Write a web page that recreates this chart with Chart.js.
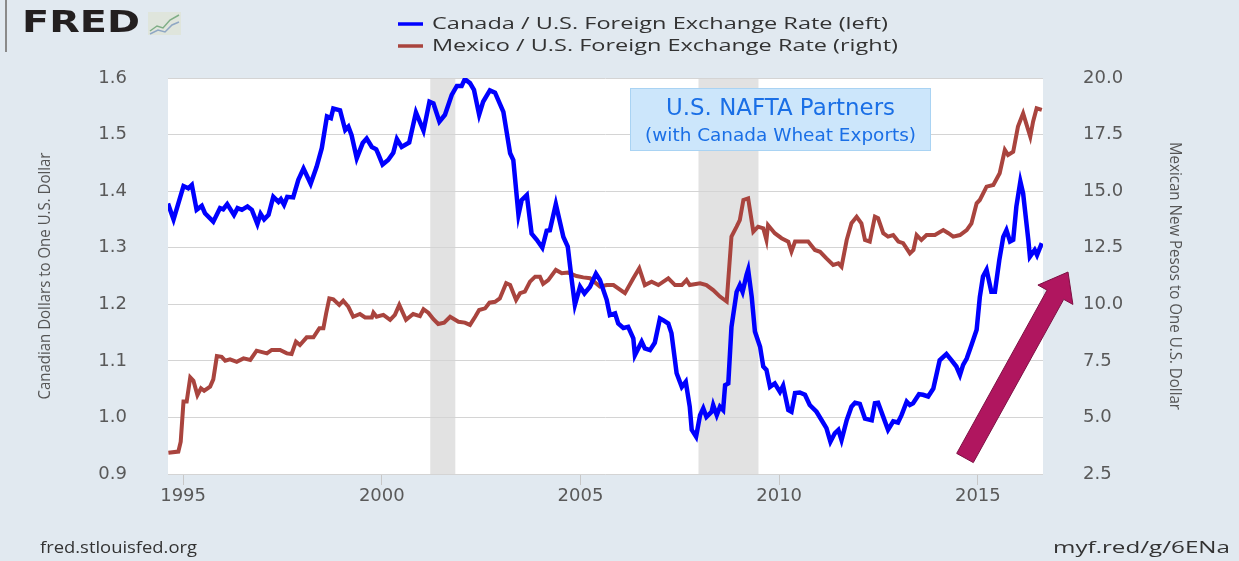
<!DOCTYPE html>
<html>
<head>
<meta charset="utf-8">
<script src="https://cdn.jsdelivr.net/npm/chart.js@4"></script>
<style>
  html, body { margin: 0; padding: 0; background: #e1e9f0; }
  canvas { display: block; }
</style>
</head>
<body>
<canvas id="fx" width="1239" height="561"></canvas>
<script>
// Canada / U.S. (left axis), decimal years
var canadaYears = [1994.62, 1994.76, 1995.01, 1995.13, 1995.22, 1995.34, 1995.47, 1995.55, 1995.76, 1995.93,
  1996.01, 1996.11, 1996.28, 1996.37, 1996.48, 1996.62, 1996.73, 1996.87, 1996.95, 1997.04,
  1997.15, 1997.27, 1997.40, 1997.46, 1997.54, 1997.62, 1997.77, 1997.90, 1998.03, 1998.21,
  1998.36, 1998.49, 1998.62, 1998.72, 1998.78, 1998.95, 1999.08, 1999.16, 1999.24, 1999.37,
  1999.52, 1999.62, 1999.75, 1999.86, 1999.91, 2000.02, 2000.16, 2000.29, 2000.38, 2000.50,
  2000.69, 2000.86, 2001.05, 2001.20, 2001.30, 2001.45, 2001.59, 2001.76, 2001.89, 2002.01,
  2002.09, 2002.22, 2002.32, 2002.45, 2002.55, 2002.72, 2002.85, 2003.06, 2003.23, 2003.31,
  2003.44, 2003.52, 2003.65, 2003.77, 2003.90, 2004.04, 2004.15, 2004.23, 2004.38, 2004.57,
  2004.68, 2004.78, 2004.86, 2004.99, 2005.10, 2005.24, 2005.39, 2005.49, 2005.66, 2005.74,
  2005.87, 2005.95, 2006.08, 2006.20, 2006.33, 2006.37, 2006.54, 2006.62, 2006.75, 2006.87,
  2007.00, 2007.08, 2007.21, 2007.29, 2007.42, 2007.55, 2007.65, 2007.75, 2007.80, 2007.91,
  2008.01, 2008.09, 2008.17, 2008.30, 2008.34, 2008.43, 2008.51, 2008.59, 2008.64, 2008.72,
  2008.80, 2008.93, 2009.01, 2009.08, 2009.18, 2009.22, 2009.31, 2009.39, 2009.52, 2009.60,
  2009.68, 2009.77, 2009.89, 2010.02, 2010.10, 2010.23, 2010.31, 2010.40, 2010.52, 2010.65,
  2010.77, 2010.94, 2011.07, 2011.19, 2011.29, 2011.40, 2011.49, 2011.57, 2011.70, 2011.82,
  2011.91, 2012.03, 2012.16, 2012.33, 2012.41, 2012.49, 2012.62, 2012.74, 2012.87, 2012.99,
  2013.08, 2013.21, 2013.29, 2013.37, 2013.52, 2013.62, 2013.75, 2013.88, 2014.04, 2014.21,
  2014.34, 2014.46, 2014.55, 2014.63, 2014.72, 2014.84, 2014.97, 2015.05, 2015.13, 2015.22,
  2015.34, 2015.43, 2015.54, 2015.64, 2015.72, 2015.81, 2015.89, 2015.97, 2016.07, 2016.14,
  2016.27, 2016.31, 2016.43, 2016.49, 2016.61];
var canadaRates = [1.378, 1.350, 1.409, 1.405, 1.411, 1.367, 1.374, 1.361, 1.346, 1.370,
  1.368, 1.377, 1.358, 1.370, 1.367, 1.373, 1.367, 1.342, 1.360, 1.350,
  1.358, 1.390, 1.381, 1.386, 1.376, 1.390, 1.389, 1.420, 1.440, 1.413,
  1.443, 1.476, 1.532, 1.529, 1.546, 1.543, 1.508, 1.514, 1.499, 1.458,
  1.485, 1.493, 1.478, 1.474, 1.466, 1.447, 1.455, 1.468, 1.492, 1.478,
  1.486, 1.539, 1.507, 1.558, 1.555, 1.523, 1.535, 1.570, 1.586, 1.586,
  1.598, 1.591, 1.579, 1.535, 1.558, 1.578, 1.574, 1.540, 1.467, 1.455,
  1.358, 1.384, 1.393, 1.325, 1.314, 1.300, 1.330, 1.331, 1.377, 1.319,
  1.302, 1.243, 1.199, 1.231, 1.219, 1.231, 1.254, 1.243, 1.208, 1.181,
  1.184, 1.166, 1.158, 1.160, 1.140, 1.110, 1.134, 1.122, 1.119, 1.132,
  1.175, 1.172, 1.166, 1.149, 1.078, 1.054, 1.063, 1.019, 0.978, 0.966,
  1.004, 1.016, 1.001, 1.010, 1.022, 1.004, 1.019, 1.013, 1.057, 1.060,
  1.160, 1.222, 1.234, 1.222, 1.252, 1.261, 1.213, 1.152, 1.125, 1.090,
  1.084, 1.054, 1.060, 1.045, 1.056, 1.013, 1.010, 1.043, 1.044, 1.040,
  1.022, 1.010, 0.995, 0.981, 0.957, 0.972, 0.978, 0.960, 0.995, 1.019,
  1.026, 1.024, 0.998, 0.995, 1.025, 1.026, 1.001, 0.978, 0.993, 0.991,
  1.004, 1.028, 1.022, 1.025, 1.041, 1.040, 1.037, 1.051, 1.101, 1.112,
  1.101, 1.090, 1.075, 1.093, 1.104, 1.128, 1.155, 1.213, 1.249, 1.261,
  1.222, 1.222, 1.278, 1.319, 1.331, 1.311, 1.314, 1.373, 1.417, 1.396,
  1.314, 1.284, 1.296, 1.287, 1.308];

// Mexico / U.S. (right axis)
var mexicoYears = [1994.63, 1994.88, 1994.94, 1995.01, 1995.09, 1995.18, 1995.26, 1995.36, 1995.45, 1995.53,
  1995.68, 1995.76, 1995.85, 1995.97, 1996.06, 1996.18, 1996.35, 1996.52, 1996.69, 1996.85,
  1997.11, 1997.23, 1997.44, 1997.61, 1997.73, 1997.84, 1997.94, 1998.11, 1998.28, 1998.43,
  1998.53, 1998.60, 1998.68, 1998.78, 1998.93, 1999.03, 1999.16, 1999.28, 1999.45, 1999.58,
  1999.75, 1999.79, 1999.87, 2000.04, 2000.21, 2000.33, 2000.44, 2000.61, 2000.79, 2000.96,
  2001.05, 2001.17, 2001.30, 2001.42, 2001.57, 2001.72, 2001.93, 2002.09, 2002.22, 2002.35,
  2002.45, 2002.60, 2002.71, 2002.85, 2002.97, 2003.13, 2003.23, 2003.38, 2003.48, 2003.60,
  2003.73, 2003.86, 2003.98, 2004.06, 2004.19, 2004.38, 2004.53, 2004.69, 2004.90, 2005.07,
  2005.24, 2005.49, 2005.66, 2005.83, 2006.12, 2006.33, 2006.48, 2006.62, 2006.79, 2006.96,
  2007.21, 2007.38, 2007.55, 2007.67, 2007.75, 2008.01, 2008.17, 2008.34, 2008.51, 2008.68,
  2008.80, 2008.93, 2009.01, 2009.10, 2009.22, 2009.35, 2009.47, 2009.60, 2009.68, 2009.72,
  2009.89, 2010.06, 2010.23, 2010.31, 2010.40, 2010.56, 2010.73, 2010.90, 2011.03, 2011.19,
  2011.36, 2011.49, 2011.57, 2011.70, 2011.82, 2011.95, 2012.07, 2012.16, 2012.28, 2012.41,
  2012.49, 2012.62, 2012.74, 2012.87, 2013.00, 2013.12, 2013.29, 2013.38, 2013.46, 2013.58,
  2013.71, 2013.92, 2014.13, 2014.26, 2014.38, 2014.55, 2014.72, 2014.84, 2014.97, 2015.05,
  2015.22, 2015.39, 2015.55, 2015.68, 2015.76, 2015.89, 2016.01, 2016.14, 2016.23, 2016.32,
  2016.39, 2016.48, 2016.61];
var mexicoRates = [3.44, 3.49, 3.93, 5.70, 5.70, 6.77, 6.62, 5.99, 6.29, 6.18,
  6.36, 6.68, 7.71, 7.68, 7.51, 7.57, 7.46, 7.61, 7.54, 7.95,
  7.83, 7.98, 7.98, 7.83, 7.80, 8.35, 8.20, 8.54, 8.54, 8.94,
  8.94, 9.60, 10.26, 10.22, 9.97, 10.16, 9.89, 9.45, 9.57, 9.42,
  9.42, 9.63, 9.45, 9.53, 9.31, 9.53, 9.97, 9.31, 9.57, 9.48,
  9.78, 9.63, 9.34, 9.13, 9.19, 9.45, 9.23, 9.19, 9.09, 9.45,
  9.75, 9.82, 10.07, 10.11, 10.26, 10.93, 10.85, 10.19, 10.49, 10.56,
  11.00, 11.22, 11.22, 10.90, 11.07, 11.52, 11.37, 11.40, 11.25, 11.19,
  11.15, 10.78, 10.85, 10.85, 10.49, 11.15, 11.59, 10.85, 11.00, 10.85,
  11.15, 10.85, 10.85, 11.07, 10.85, 10.93, 10.85, 10.63, 10.34, 10.12,
  12.99, 13.43, 13.72, 14.61, 14.68, 13.21, 13.43, 13.36, 12.84, 13.50,
  13.14, 12.92, 12.77, 12.33, 12.77, 12.77, 12.77, 12.40, 12.32, 12.03,
  11.74, 11.81, 11.66, 12.84, 13.58, 13.87, 13.58, 12.84, 12.77, 13.87,
  13.80, 13.14, 12.99, 13.06, 12.77, 12.70, 12.25, 12.40, 13.06, 12.84,
  13.06, 13.06, 13.28, 13.14, 12.99, 13.06, 13.28, 13.58, 14.46, 14.61,
  15.20, 15.27, 15.79, 16.82, 16.60, 16.74, 17.85, 18.44, 17.92, 17.41,
  18.07, 18.66, 18.59];

var recessionStarts = [2001.22, 2007.97];
var recessionEnds = [2001.85, 2009.48];

var yearTicks = [1995, 2000, 2005, 2010, 2015];
var leftTicks = [0.9, 1.0, 1.1, 1.2, 1.3, 1.4, 1.5, 1.6];
var rightTicks = [2.5, 5.0, 7.5, 10.0, 12.5, 15.0, 17.5, 20.0];

var canadaLabel = "Canada / U.S. Foreign Exchange Rate (left)";
var mexicoLabel = "Mexico / U.S. Foreign Exchange Rate (right)";

function toPoints(xs, ys) {
  return xs.map(function (x, i) { return { x: x, y: ys[i] }; });
}

// draws text squeezed/stretched to a given width (the source picture is stretched)
function fitText(ctx, text, x, y, w, font, color, rot) {
  ctx.save();
  ctx.font = font;
  var m = ctx.measureText(text).width;
  ctx.translate(x, y);
  if (rot) ctx.rotate(rot);
  ctx.scale(w / m, 1);
  ctx.fillStyle = color;
  ctx.textAlign = "left";
  ctx.textBaseline = "middle";
  ctx.fillText(text, rot ? -m / 2 : 0, 0);
  ctx.restore();
}

var backdrop = {
  id: "backdrop",
  beforeDraw: function (chart) {
    var ctx = chart.ctx, a = chart.chartArea, x = chart.scales.x;
    ctx.save();
    ctx.fillStyle = "#e1e9f0";
    ctx.fillRect(0, 0, chart.width, chart.height);
    ctx.fillStyle = "#ffffff";
    ctx.fillRect(a.left, a.top, a.right - a.left, a.bottom - a.top);
    ctx.fillStyle = "#e2e2e2";
    recessionStarts.forEach(function (s, i) {
      var x0 = x.getPixelForValue(s), x1 = x.getPixelForValue(recessionEnds[i]);
      ctx.fillRect(x0, a.top, x1 - x0, a.bottom - a.top);
    });
    ctx.restore();
  }
};

var decorations = {
  id: "decorations",
  afterDraw: function (chart) {
    var ctx = chart.ctx;
    ctx.save();

    // left frame line
    ctx.fillStyle = "#8a8a8a";
    ctx.fillRect(5, 0, 2, 52);

    // FRED logo
    fitText(ctx, "FRED", 22, 24, 118, "bold 30px 'DejaVu Sans'", "#231f20");
    ctx.fillStyle = "#dfe5dc";
    ctx.fillRect(148, 12, 33, 23);
    ctx.lineWidth = 1.5;
    ctx.strokeStyle = "#7fae86";
    ctx.beginPath();
    ctx.moveTo(150, 31); ctx.lineTo(157, 26); ctx.lineTo(163, 28); ctx.lineTo(170, 20); ctx.lineTo(179, 15);
    ctx.stroke();
    ctx.strokeStyle = "#8fa7c4";
    ctx.beginPath();
    ctx.moveTo(150, 34); ctx.lineTo(158, 30); ctx.lineTo(165, 32); ctx.lineTo(172, 25); ctx.lineTo(179, 22);
    ctx.stroke();

    // legend
    ctx.lineWidth = 3.5;
    ctx.strokeStyle = "#0000ff";
    ctx.beginPath(); ctx.moveTo(398, 24); ctx.lineTo(423, 24); ctx.stroke();
    ctx.strokeStyle = "#a9443e";
    ctx.beginPath(); ctx.moveTo(398, 46); ctx.lineTo(423, 46); ctx.stroke();
    fitText(ctx, canadaLabel, 432, 24, 456, "17px 'Open Sans'", "#333333");
    fitText(ctx, mexicoLabel, 432, 46, 466, "17px 'Open Sans'", "#333333");

    // axis titles
    fitText(ctx, "Canadian Dollars to One U.S. Dollar", 45, 276, 247, "17px 'Open Sans'", "#555555", -Math.PI / 2);
    fitText(ctx, "Mexican New Pesos to One U.S. Dollar", 1175, 276, 268, "17px 'Open Sans'", "#555555", Math.PI / 2);

    // footer
    fitText(ctx, "fred.stlouisfed.org", 40, 548, 157, "17px 'Open Sans'", "#333333");
    fitText(ctx, "myf.red/g/6ENa", 1053, 548, 177, "17px 'Open Sans'", "#333333");

    // annotation box
    ctx.fillStyle = "#cce6fb";
    ctx.fillRect(630, 88, 301, 63);
    ctx.strokeStyle = "#a9d3f3";
    ctx.lineWidth = 1;
    ctx.strokeRect(630.5, 88.5, 300, 62);
    fitText(ctx, "U.S. NAFTA Partners", 666, 109, 229, "23px 'DejaVu Sans'", "#1a6fe6");
    fitText(ctx, "(with Canada Wheat Exports)", 645, 136, 271, "18px 'DejaVu Sans'", "#1a6fe6");

    // arrow
    var tx = 965, ty = 458, px = 1068, py = 272;
    var dx = px - tx, dy = py - ty, len = Math.sqrt(dx * dx + dy * dy);
    var ux = dx / len, uy = dy / len, nx = -uy, ny = ux;
    var hw = 9.5, hh = 20, hl = 26;
    var bx = px - ux * hl, by = py - uy * hl;
    ctx.beginPath();
    ctx.moveTo(tx + nx * hw, ty + ny * hw);
    ctx.lineTo(bx + nx * hw, by + ny * hw);
    ctx.lineTo(bx + nx * hh, by + ny * hh);
    ctx.lineTo(px, py);
    ctx.lineTo(bx - nx * hh, by - ny * hh);
    ctx.lineTo(bx - nx * hw, by - ny * hw);
    ctx.lineTo(tx - nx * hw, ty - ny * hw);
    ctx.closePath();
    ctx.fillStyle = "#b0165f";
    ctx.fill();
    ctx.strokeStyle = "#7d0f43";
    ctx.lineWidth = 1;
    ctx.stroke();

    ctx.restore();
  }
};

var tickFont = { family: "'DejaVu Sans'", size: 18 };

new Chart(document.getElementById("fx").getContext("2d"), {
  type: "line",
  data: {
    datasets: [
      {
        label: canadaLabel,
        data: toPoints(canadaYears, canadaRates),
        borderColor: "#0000ff",
        borderWidth: 4.5,
        pointRadius: 0,
        tension: 0,
        yAxisID: "y"
      },
      {
        label: mexicoLabel,
        data: toPoints(mexicoYears, mexicoRates),
        borderColor: "#a9443e",
        borderWidth: 4,
        pointRadius: 0,
        tension: 0,
        yAxisID: "y1"
      }
    ]
  },
  options: {
    responsive: false,
    animation: false,
    devicePixelRatio: 1,
    layout: { padding: { top: 78, left: 0, right: 0, bottom: 0 } },
    plugins: { legend: { display: false }, title: { display: false }, tooltip: { enabled: false } },
    scales: {
      x: {
        type: "linear",
        min: 1994.62,
        max: 2016.64,
        afterBuildTicks: function (s) { s.ticks = yearTicks.map(function (v) { return { value: v }; }); },
        afterFit: function (s) { s.height = 87; },
        ticks: { color: "#595959", font: tickFont, padding: 1, maxRotation: 0, callback: function (v) { return String(v); } },
        grid: { drawOnChartArea: false, tickLength: 11, color: "#c8c8c8" },
        border: { display: false }
      },
      y: {
        position: "left",
        min: 0.9,
        max: 1.6,
        afterBuildTicks: function (s) { s.ticks = leftTicks.map(function (v) { return { value: v }; }); },
        afterFit: function (s) { s.width = 168; },
        ticks: { color: "#595959", font: tickFont, padding: 41, callback: function (v) { return v.toFixed(1); } },
        grid: { color: "#d4d4d4", drawTicks: false },
        border: { display: false }
      },
      y1: {
        position: "right",
        min: 2.5,
        max: 20,
        afterBuildTicks: function (s) { s.ticks = rightTicks.map(function (v) { return { value: v }; }); },
        afterFit: function (s) { s.width = 196; },
        ticks: { color: "#595959", font: tickFont, padding: 40, callback: function (v) { return v.toFixed(1); } },
        grid: { drawOnChartArea: false, drawTicks: false },
        border: { display: false }
      }
    }
  },
  plugins: [backdrop, decorations]
});
</script>
</body>
</html>
